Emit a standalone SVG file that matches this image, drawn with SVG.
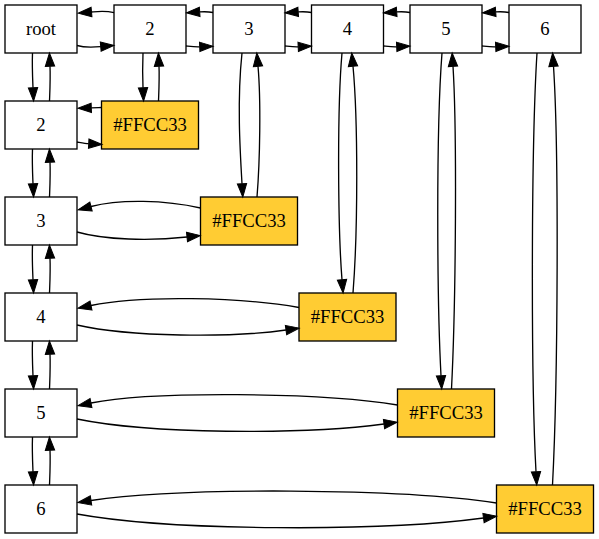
<svg xmlns="http://www.w3.org/2000/svg" width="599" height="539" viewBox="0 0 599 539">
<style>
.n rect{fill:#ffffff;stroke:#000000;stroke-width:1.33}
.y rect{fill:#ffcc33;stroke:#000000;stroke-width:1.33}
#edges path{fill:none;stroke:#000000;stroke-width:1.33;marker-end:url(#ah)}
</style>
<defs>
<marker id="ah" markerUnits="userSpaceOnUse" markerWidth="14" markerHeight="10" refX="0" refY="4.67" orient="auto" overflow="visible">
<path d="M0,0 L13.33,4.67 L0,9.33 z" fill="#000000" stroke="#000000" stroke-width="1"/>
</marker>
</defs>
<rect width="599" height="539" fill="#ffffff"/>
<g id="nodes" font-family="'Liberation Serif', 'DejaVu Serif', serif" font-size="18.67" text-anchor="middle" fill="#000000">
<g id="root" class="n"><rect x="5" y="5" width="72" height="48"/><text x="41" y="35.3">root</text></g>
<g id="t2" class="n"><rect x="114" y="5" width="72" height="48"/><text x="150" y="35.3">2</text></g>
<g id="t3" class="n"><rect x="213" y="5" width="72" height="48"/><text x="249" y="35.3">3</text></g>
<g id="t4" class="n"><rect x="311.5" y="5" width="72" height="48"/><text x="347.5" y="35.3">4</text></g>
<g id="t5" class="n"><rect x="410" y="5" width="72" height="48"/><text x="446" y="35.3">5</text></g>
<g id="t6" class="n"><rect x="509" y="5" width="72" height="48"/><text x="545" y="35.3">6</text></g>
<g id="l2" class="n"><rect x="5" y="101" width="72" height="48"/><text x="41" y="131.3">2</text></g>
<g id="l3" class="n"><rect x="5" y="197" width="72" height="48"/><text x="41" y="227.3">3</text></g>
<g id="l4" class="n"><rect x="5" y="293" width="72" height="48"/><text x="41" y="323.3">4</text></g>
<g id="l5" class="n"><rect x="5" y="389" width="72" height="48"/><text x="41" y="419.3">5</text></g>
<g id="l6" class="n"><rect x="5" y="485" width="72" height="48"/><text x="41" y="515.3">6</text></g>
<g id="c2" class="y"><rect x="101.5" y="101" width="97" height="48"/><text x="150" y="131.3">#FFCC33</text></g>
<g id="c3" class="y"><rect x="200.5" y="197" width="97" height="48"/><text x="249" y="227.3">#FFCC33</text></g>
<g id="c4" class="y"><rect x="299" y="293" width="97" height="48"/><text x="347.5" y="323.3">#FFCC33</text></g>
<g id="c5" class="y"><rect x="397.5" y="389" width="97" height="48"/><text x="446" y="419.3">#FFCC33</text></g>
<g id="c6" class="y"><rect x="496.5" y="485" width="97" height="48"/><text x="545" y="515.3">#FFCC33</text></g>
</g>
<g id="edges">
<path d="M114,12.7 C105,10.3 97,11.5 91.5,12"/>
<path d="M77,45.5 C84,47.5 94,47.2 100.7,46.6"/>
<path d="M213,12.5 C208,11.5 204,11.6 199.7,11.9"/>
<path d="M186,46 C191,46.5 195,47 199.7,46.8"/>
<path d="M311.5,12.5 C306.5,11.5 302.5,11.6 298.2,11.9"/>
<path d="M285,46 C290,46.5 294,47 298.2,46.8"/>
<path d="M410,12.5 C405,11.5 401,11.6 396.7,11.9"/>
<path d="M383.5,46 C388.5,46.5 392.5,47 396.7,46.8"/>
<path d="M509,12.5 C504,11.5 500,11.6 495.7,11.9"/>
<path d="M482,46 C487,46.5 491,47 495.7,46.8"/>
<path d="M32.5,53 C32,66 32.5,76 33,87.7"/>
<path d="M49.5,101 C50,88 50.5,78 50,66.3"/>
<path d="M32.5,149 C32,162 32.5,172 33,183.7"/>
<path d="M49.5,197 C50,184 50.5,174 50,162.3"/>
<path d="M32.5,245 C32,258 32.5,268 33,279.7"/>
<path d="M49.5,293 C50,280 50.5,270 50,258.3"/>
<path d="M32.5,341 C32,354 32.5,364 33,375.7"/>
<path d="M49.5,389 C50,376 50.5,366 50,354.3"/>
<path d="M32.5,437 C32,450 32.5,460 33,471.7"/>
<path d="M49.5,485 C50,472 50.5,462 50,450.3"/>
<path d="M143,53 C142.5,66 142.5,76 143,87.7"/>
<path d="M158.5,101 C159,88 159.5,78 159,66.3"/>
<path d="M242,53 C237,100 240,150 242,183.7"/>
<path d="M257,197 C260,160 261,100 258,66.3"/>
<path d="M342,53 C337,110 338,230 342,279.7"/>
<path d="M353,293 C358,230 358,120 353,66.3"/>
<path d="M442,53 C436,130 437,300 441,375.7"/>
<path d="M451.5,389 C456,300 457,130 453,66.3"/>
<path d="M537,53 C531,150 531,380 536,471.7"/>
<path d="M552.5,485 C558,380 559,150 553.5,66.3"/>
<path d="M101.5,107.5 C98,107.6 94,107.7 91.3,107.8"/>
<path d="M77,142 C80,142.5 85,143.5 88.7,143.7"/>
<path d="M200.5,208 C165,200 120,199 91,206.5"/>
<path d="M77,232 C105,240 150,241 187,237"/>
<path d="M299,307.5 C240,297 140,295 91,305.5"/>
<path d="M77,325 C130,337 230,338 286,330"/>
<path d="M397.5,405 C320,392 150,391 91,403"/>
<path d="M77,419 C150,434 300,435 384,424"/>
<path d="M496.5,503 C400,488 180,487 91,500.5"/>
<path d="M77,514 C170,531 380,532 483.5,518"/>
</g>
</svg>
